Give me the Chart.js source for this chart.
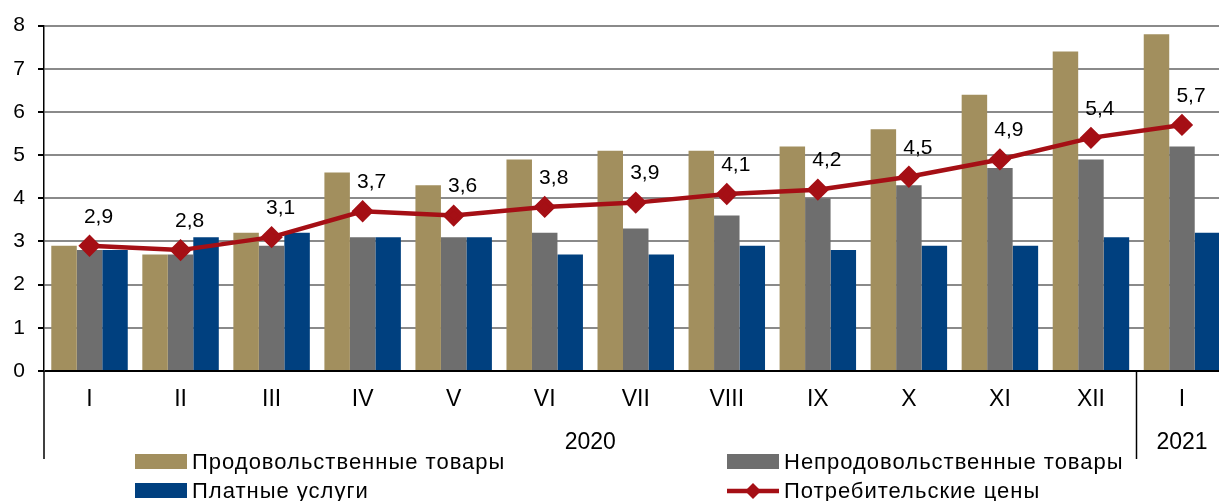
<!DOCTYPE html>
<html>
<head>
<meta charset="utf-8">
<script src="https://cdn.jsdelivr.net/npm/chart.js@4/dist/chart.umd.min.js"></script>
<style>
  html, body { margin: 0; padding: 0; background: #fff; overflow: hidden; }
  #wrap { width: 1240px; height: 501px; position: relative; }
  canvas { display: block; }
</style>
</head>
<body>
<div id="wrap"><canvas id="cpi-chart"></canvas></div>
<script>
const months = ["I", "II", "III", "IV", "V", "VI", "VII", "VIII", "IX", "X", "XI", "XII", "I"];
const years = ["2020", "2021"];
const yearSpans = [12, 1];
const food = [2.9, 2.7, 3.2, 4.6, 4.3, 4.9, 5.1, 5.1, 5.2, 5.6, 6.4, 7.4, 7.8];
const nonFood = [2.8, 2.7, 2.9, 3.1, 3.1, 3.2, 3.3, 3.6, 4.0, 4.3, 4.7, 4.9, 5.2];
const services = [2.8, 3.1, 3.2, 3.1, 3.1, 2.7, 2.7, 2.9, 2.8, 2.9, 2.9, 3.1, 3.2];
const cpi = [2.9, 2.8, 3.1, 3.7, 3.6, 3.8, 3.9, 4.1, 4.2, 4.5, 4.9, 5.4, 5.7];

const FONT = "'Liberation Sans', Arial, sans-serif";
Chart.defaults.font.family = FONT;
Chart.defaults.color = "#000";

const fmt = (v) => v.toFixed(1).replace(".", ",");

// value labels above the CPI line
const lineLabels = {
  id: "lineLabels",
  afterDatasetsDraw(chart) {
    const ctx = chart.ctx;
    const meta = chart.getDatasetMeta(0);
    ctx.save();
    ctx.font = "21px " + FONT;
    ctx.fillStyle = "#000";
    ctx.textAlign = "center";
    ctx.textBaseline = "middle";
    meta.data.forEach((pt, i) => {
      ctx.fillText(fmt(cpi[i]), pt.x + 9, pt.y - 29);
    });
    ctx.restore();
  },
};

// year row, separators and legend under the axis
const bottomStuff = {
  id: "bottomStuff",
  afterDraw(chart) {
    const ctx = chart.ctx;
    const x = chart.scales.x;
    const bottom = chart.chartArea.bottom;
    ctx.save();
    ctx.strokeStyle = "#000";
    ctx.lineWidth = 1.5;
    let start = 0;
    ctx.font = "23px " + FONT;
    ctx.textAlign = "center";
    ctx.textBaseline = "middle";
    ctx.fillStyle = "#000";
    years.forEach((yr, i) => {
      const x0 = x.getPixelForValue(start - 0.5);
      const x1 = x.getPixelForValue(start + yearSpans[i] - 0.5);
      ctx.fillText(yr, (x0 + x1) / 2, 443);
      if (i > 0) {
        ctx.beginPath();
        ctx.moveTo(Math.round(x0) + 0.5, bottom);
        ctx.lineTo(Math.round(x0) + 0.5, 459);
        ctx.stroke();
      }
      start += yearSpans[i];
    });
    ctx.beginPath();
    ctx.moveTo(chart.chartArea.left, bottom);
    ctx.lineTo(chart.chartArea.left, 459);
    ctx.stroke();

    // legend
    const ds = chart.data.datasets;
    const items = [ds[1], ds[2], ds[3], ds[0]];
    const cols = [135, 727];
    const rows = [462, 491];
    ctx.textAlign = "left";
    ctx.font = "22px " + FONT;
    ctx.letterSpacing = "1px";
    items.forEach((d, i) => {
      const bx = cols[i % 2];
      const by = rows[Math.floor(i / 2)];
      if (d.type === "line") {
        ctx.strokeStyle = d.borderColor;
        ctx.lineWidth = 4.5;
        ctx.beginPath();
        ctx.moveTo(bx, by);
        ctx.lineTo(bx + 52, by);
        ctx.stroke();
        ctx.fillStyle = d.borderColor;
        ctx.beginPath();
        ctx.moveTo(bx + 26, by - 8);
        ctx.lineTo(bx + 34, by);
        ctx.lineTo(bx + 26, by + 8);
        ctx.lineTo(bx + 18, by);
        ctx.closePath();
        ctx.fill();
      } else {
        ctx.fillStyle = d.backgroundColor;
        ctx.fillRect(bx, by - 8, 52, 15);
      }
      ctx.fillStyle = "#000";
      ctx.fillText(d.label, bx + 57, by + 1);
    });
    ctx.restore();
  },
};

new Chart(document.getElementById("cpi-chart"), {
  data: {
    labels: months,
    datasets: [
      {
        type: "line",
        label: "Потребительские цены",
        data: cpi,
        borderColor: "#A50F15",
        backgroundColor: "#A50F15",
        borderWidth: 4.5,
        pointStyle: "rectRot",
        pointRadius: 8,
        pointHoverRadius: 8,
        tension: 0,
        order: 0,
      },
      { type: "bar", label: "Продовольственные товары", data: food, backgroundColor: "#A28F5E", order: 1 },
      { type: "bar", label: "Непродовольственные товары", data: nonFood, backgroundColor: "#6E6E6E", order: 1 },
      { type: "bar", label: "Платные услуги", data: services, backgroundColor: "#00407F", order: 1 },
    ],
  },
  options: {
    responsive: true,
    maintainAspectRatio: false,
    animation: false,
    layout: { padding: { top: 20, right: 0, bottom: 0, left: 0 } },
    datasets: {
      bar: { categoryPercentage: 0.84, barPercentage: 1.0 },
    },
    plugins: {
      legend: { display: false },
      tooltip: { enabled: false },
    },
    scales: {
      x: {
        grid: { display: false, drawTicks: false },
        border: { display: false },
        ticks: { font: { size: 23 }, padding: 15, maxRotation: 0, autoSkip: false },
        afterFit: (scale) => { scale.height = 130; },
      },
      y: {
        min: 0,
        max: 8,
        ticks: { stepSize: 1, font: { size: 21 }, padding: 13 },
        grid: {
          color: (c) => (c.tick && c.tick.value === 0 ? "#000" : "#8A8A8A"),
          lineWidth: 2,
          tickLength: 6,
          tickColor: "#000",
        },
        border: { color: "#000", width: 1.5 },
        afterFit: (scale) => { scale.width = 44; },
      },
    },
  },
  plugins: [lineLabels, bottomStuff],
});
</script>
</body>
</html>
